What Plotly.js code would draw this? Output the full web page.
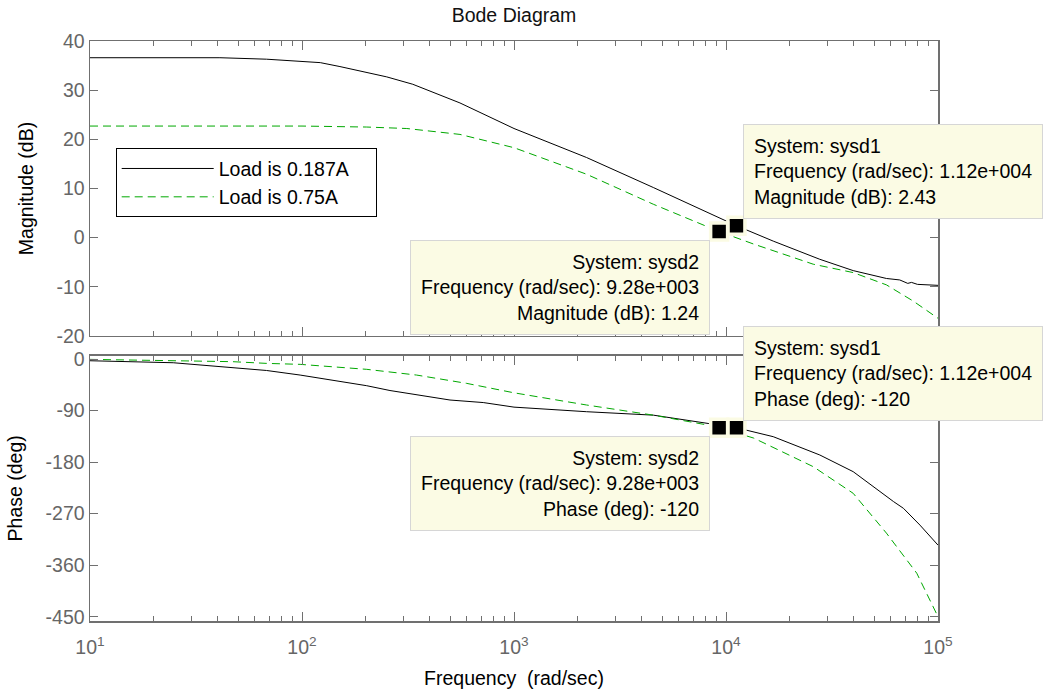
<!DOCTYPE html>
<html><head><meta charset="utf-8">
<script src="https://cdn.plot.ly/plotly-3.0.1.min.js"></script>
<style>html,body{margin:0;padding:0;background:#fff}#chart{width:1052px;height:696px}</style>
</head><body><div id="chart"></div>
<script>
// ---- data ----
const seriesNames = ['Load is 0.187A', 'Load is 0.75A'];
const systemNames = ['sysd1', 'sysd2'];

const freqMag1 = [10, 20, 41, 68, 122, 151, 251, 333, 556, 1000, 2200, 4540, 9330, 11200, 16700, 27700, 39800, 57100, 66000, 72000, 75000, 80000, 100000];
const mag1     = [36.6, 36.6, 36.6, 36.3, 35.6, 34.8, 32.7, 31.2, 27.4, 22.2, 16.3, 10.2, 3.9, 2.43, -0.7, -4.4, -6.7, -8.3, -8.6, -9.3, -9.1, -9.5, -9.7];

const freqMag2 = [10, 100, 202, 312, 556, 1000, 2200, 4540, 9280, 13500, 25800, 39800, 57100, 76400, 100000];
const mag2     = [22.7, 22.7, 22.5, 22.2, 21.0, 18.3, 12.9, 6.8, 1.24, -1.3, -5.4, -7.1, -9.6, -12.9, -16.4];

const freqPh1 = [10, 24.7, 68, 98, 202, 260, 499, 716, 1000, 2200, 4540, 8110, 11200, 16700, 27700, 39800, 47000, 61700, 68700, 82200, 100000];
const phase1  = [-3, -6.5, -20, -28, -46.6, -55, -71.6, -76, -84, -92, -98, -112, -120, -135.6, -167.6, -196.7, -217, -249, -260.7, -290, -325];

const freqPh2 = [10, 20, 47, 68, 98, 202, 347, 598, 1000, 2200, 4540, 8110, 9280, 13500, 25800, 39800, 57100, 79400, 100000];
const phase2  = [-0.6, -2.3, -4.6, -7.6, -9.3, -18, -28, -42.5, -59, -80.3, -98, -115, -120, -138, -188, -234.5, -304, -374, -450];

// data tips
const tipFreq  = [11200, 9280];
const tipFreqText = ['1.12e+004', '9.28e+003'];
const tipMag   = [2.43, 1.24];
const tipMagText = ['2.43', '1.24'];
const tipPhase = [-120, -120];
const tipPhaseText = ['-120', '-120'];

// axis ticks
const xDecades = [1, 2, 3, 4, 5];
const magTicks = [40, 30, 20, 10, 0, -10, -20];
const phaseTicks = [0, -90, -180, -270, -360, -450];

// ---- styling ----
const FONT = '"Liberation Sans", Arial, sans-serif';
const FS = 19.5;
const AXC = '#707070';
const TICKC = '#666666';
const BLACK = '#000000';
const GREEN = '#00a800';
const TIPBG = '#fbfbe4';
const TIPBORDER = '#d6d6d6';
const LEGPAD = '\u00a0\u00a0\u00a0\u00a0';

const xTickVals = xDecades.map(d => Math.pow(10, d));
const xTickText = xDecades.map(d => '10<sup>' + d + '</sup>');
const minorVals = [];
for (let d = 1; d < 5; d++) for (let k = 2; k <= 9; k++) minorVals.push(k * Math.pow(10, d));

function xAxis(showLabels, title) {
  const ax = {
    type: 'log', range: [1, 5],
    tickmode: 'array', tickvals: xTickVals, ticktext: xTickText,
    showticklabels: showLabels, ticklabelstandoff: 8,
    ticks: 'inside', ticklen: 9, tickwidth: 1, tickcolor: AXC,
    minor: {tickmode: 'array', tickvals: minorVals, ticks: 'inside', ticklen: 5, tickwidth: 1,
            tickcolor: AXC, showgrid: false},
    showline: true, linecolor: AXC, linewidth: 1.5, mirror: 'ticks',
    showgrid: false, zeroline: false,
    tickfont: {family: FONT, size: FS, color: TICKC}
  };
  if (title) ax.title = {text: title, font: {family: FONT, size: FS, color: BLACK}, standoff: 14};
  return ax;
}
function yAxis(domain, range, vals, title) {
  return {
    domain: domain, range: range,
    tickmode: 'array', tickvals: vals, ticktext: vals.map(v => String(v)),
    ticks: 'inside', ticklen: 8, tickwidth: 1, tickcolor: AXC,
    showline: true, linecolor: AXC, linewidth: 1.5, mirror: 'ticks',
    showgrid: false, zeroline: false,
    tickfont: {family: FONT, size: FS, color: TICKC},
    title: {text: title, font: {family: FONT, size: FS, color: BLACK}, standoff: 17}
  };
}

const traces = [
  {x: freqMag1, y: mag1, xaxis: 'x', yaxis: 'y', mode: 'lines', name: seriesNames[0] + LEGPAD,
   line: {color: BLACK, width: 1}, legendgroup: 'a'},
  {x: freqMag2, y: mag2, xaxis: 'x', yaxis: 'y', mode: 'lines', name: seriesNames[1] + LEGPAD,
   line: {color: GREEN, width: 1, dash: '8px,5px'}, legendgroup: 'b'},
  {x: freqPh1, y: phase1, xaxis: 'x2', yaxis: 'y2', mode: 'lines', showlegend: false,
   line: {color: BLACK, width: 1}},
  {x: freqPh2, y: phase2, xaxis: 'x2', yaxis: 'y2', mode: 'lines', showlegend: false,
   line: {color: GREEN, width: 1, dash: '8px,5px'}},
  {x: tipFreq, y: tipMag, xaxis: 'x', yaxis: 'y', mode: 'markers', showlegend: false, cliponaxis: false,
   marker: {symbol: 'square', size: 17, color: BLACK, line: {color: TIPBG, width: 3.5}}},
  {x: tipFreq, y: tipPhase, xaxis: 'x2', yaxis: 'y2', mode: 'markers', showlegend: false, cliponaxis: false,
   marker: {symbol: 'square', size: 17, color: BLACK, line: {color: TIPBG, width: 3.5}}}
];

function tip(i, xref, yref, yval, label, valText) {
  const right = i === 0;
  return {
    xref: xref, yref: yref, x: Math.log10(tipFreq[i]), y: yval,
    text: 'System: ' + systemNames[i] + '<br>Frequency (rad/sec): ' + tipFreqText[i] + '<br>' + label + ': ' + valText,
    showarrow: false, align: right ? 'left' : 'right',
    xanchor: right ? 'left' : 'right', yanchor: right ? 'bottom' : 'top',
    xshift: right ? 7 : -9, yshift: right ? 7 : -8,
    bgcolor: TIPBG, bordercolor: TIPBORDER, borderwidth: 1, borderpad: 10,
    font: {family: FONT, size: FS, color: BLACK}
  };
}

const layout = {
  width: 1052, height: 696,
  margin: {l: 90, r: 114, t: 41, b: 75},
  paper_bgcolor: '#ffffff', plot_bgcolor: '#ffffff',
  font: {family: FONT, size: FS, color: BLACK},
  title: {text: 'Bode Diagram', font: {family: FONT, size: FS, color: '#111'},
          x: 0.5, xref: 'paper', y: 1 - 15 / 696, yref: 'container', yanchor: 'middle'},
  xaxis: Object.assign(xAxis(false), {anchor: 'y', matches: 'x2'}),
  xaxis2: Object.assign(xAxis(true, 'Frequency\u00a0 (rad/sec)'), {anchor: 'y2'}),
  yaxis: Object.assign(yAxis([0.4914, 1], [-20, 40], magTicks, 'Magnitude (dB)'), {anchor: 'x'}),
  yaxis2: Object.assign(yAxis([0, 0.4574], [-457.5, 5.8], phaseTicks, 'Phase (deg)'), {anchor: 'x2'}),
  showlegend: true,
  legend: {x: 0.0303, y: 0.815, xanchor: 'left', yanchor: 'top', xref: 'paper', yref: 'paper',
           bgcolor: '#ffffff', bordercolor: BLACK, borderwidth: 1,
           font: {family: FONT, size: FS, color: BLACK}, itemwidth: 92,
           traceorder: 'normal', tracegroupgap: 3},
  annotations: [
    tip(0, 'x', 'y', tipMag[0], 'Magnitude (dB)', tipMagText[0]),
    tip(1, 'x', 'y', tipMag[1], 'Magnitude (dB)', tipMagText[1]),
    tip(0, 'x2', 'y2', tipPhase[0], 'Phase (deg)', tipPhaseText[0]),
    tip(1, 'x2', 'y2', tipPhase[1], 'Phase (deg)', tipPhaseText[1])
  ]
};

Plotly.newPlot('chart', traces, layout, {displayModeBar: false, staticPlot: true});
</script></body></html>
